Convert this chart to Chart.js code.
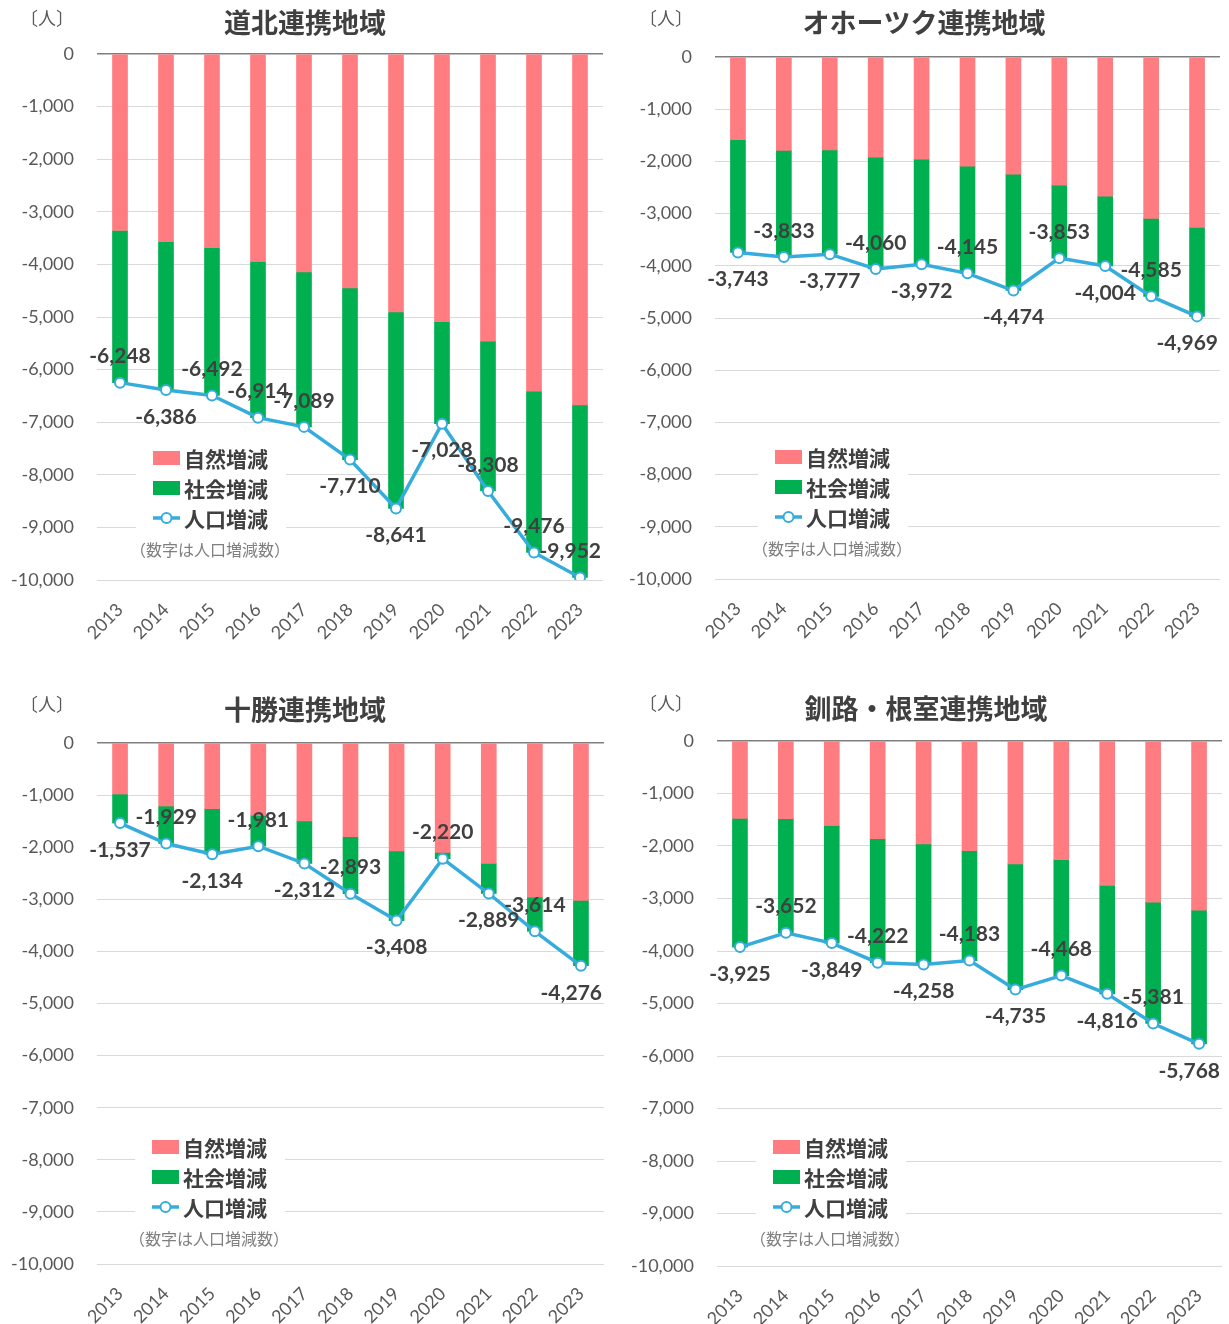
<!DOCTYPE html>
<html lang="ja">
<head>
<meta charset="utf-8">
<title>連携地域別 人口増減の推移</title>
<script src="https://cdn.jsdelivr.net/npm/chart.js@4.4.1/dist/chart.umd.min.js"></script>
<style>
  body { margin: 0; background: #fff; }
  #wrap { position: relative; width: 1229px; height: 1324px; overflow: hidden; }
  canvas { position: absolute; }
</style>
</head>
<body>
<div id="wrap">
  <canvas id="dohoku" width="615" height="660" style="left:0;top:0"></canvas>
  <canvas id="okhotsk" width="614" height="660" style="left:615px;top:0"></canvas>
  <canvas id="tokachi" width="615" height="664" style="left:0;top:660px"></canvas>
  <canvas id="kushiro" width="614" height="664" style="left:615px;top:660px"></canvas>
</div>
<script>
// categories and axis ticks
const years = ['2013', '2014', '2015', '2016', '2017', '2018', '2019', '2020', '2021', '2022', '2023'];
const yTickValues = [0, -1000, -2000, -3000, -4000, -5000, -6000, -7000, -8000, -9000, -10000];

// 道北連携地域
const dohokuNatural = [-3355, -3570, -3680, -3945, -4145, -4445, -4905, -5090, -5460, -6410, -6670];
const dohokuSocial  = [-2893, -2816, -2812, -2969, -2944, -3265, -3736, -1938, -2848, -3066, -3282];
const dohokuTotal   = [-6248, -6386, -6492, -6914, -7089, -7710, -8641, -7028, -8308, -9476, -9952];

// オホーツク連携地域
const okhotskNatural = [-1585, -1790, -1780, -1920, -1955, -2090, -2245, -2455, -2665, -3090, -3265];
const okhotskSocial  = [-2158, -2043, -1997, -2140, -2017, -2055, -2229, -1398, -1339, -1495, -1704];
const okhotskTotal   = [-3743, -3833, -3777, -4060, -3972, -4145, -4474, -3853, -4004, -4585, -4969];

// 十勝連携地域
const tokachiNatural = [-980, -1210, -1260, -1390, -1495, -1800, -2070, -2100, -2310, -2960, -3020];
const tokachiSocial  = [-557, -719, -874, -591, -817, -1093, -1338, -120, -579, -654, -1256];
const tokachiTotal   = [-1537, -1929, -2134, -1981, -2312, -2893, -3408, -2220, -2889, -3614, -4276];

// 釧路・根室連携地域
const kushiroNatural = [-1475, -1480, -1610, -1860, -1960, -2090, -2340, -2260, -2750, -3070, -3220];
const kushiroSocial  = [-2450, -2172, -2239, -2362, -2298, -2093, -2395, -2208, -2066, -2311, -2548];
const kushiroTotal   = [-3925, -3652, -3849, -4222, -4258, -4183, -4735, -4468, -4816, -5381, -5768];

const PINK = '#ff7c80';
const GREEN = '#00b050';
const BLUE = '#35acdb';
const JP = '"Noto Sans CJK JP", sans-serif';
const NUM = 'Lato, "Noto Sans", sans-serif';

const fmt = v => v.toLocaleString('en-US');

// title, unit, legend, note and the total labels
const overlay = {
  id: 'overlay',
  afterDraw(chart, args, o) {
    const ctx = chart.ctx;
    const area = chart.chartArea;
    ctx.save();
    ctx.textAlign = 'center';
    ctx.textBaseline = 'middle';

    ctx.fillStyle = '#595959';
    ctx.font = '18px ' + JP;
    ctx.fillText('〔人〕', o.unitX, o.unitY);

    ctx.fillStyle = '#404040';
    ctx.font = 'bold 27px ' + JP;
    ctx.fillText(o.title, o.titleX, o.titleY);

    // legend
    const lx = o.legendX, ly = o.legendY;
    ctx.fillStyle = '#fff';
    ctx.fillRect(lx - 17, ly - 13, 150, 89);
    ctx.fillStyle = PINK;
    ctx.fillRect(lx, ly - 7, 27, 14);
    ctx.fillStyle = GREEN;
    ctx.fillRect(lx, ly + 30 - 7, 27, 14);
    ctx.strokeStyle = BLUE;
    ctx.lineWidth = 3.5;
    ctx.beginPath();
    ctx.moveTo(lx, ly + 60);
    ctx.lineTo(lx + 27, ly + 60);
    ctx.stroke();
    ctx.beginPath();
    ctx.arc(lx + 13.5, ly + 60, 5, 0, Math.PI * 2);
    ctx.fillStyle = '#fff';
    ctx.fill();
    ctx.lineWidth = 2;
    ctx.stroke();

    ctx.textAlign = 'left';
    ctx.fillStyle = '#404040';
    ctx.font = 'bold 21px ' + JP;
    ['自然増減', '社会増減', '人口増減'].forEach((t, i) => {
      ctx.fillText(t, lx + 31, ly + i * 30 + 1);
    });
    ctx.textAlign = 'center';
    ctx.fillStyle = '#7f7f7f';
    ctx.font = '16px ' + JP;
    ctx.fillText('（数字は人口増減数）', lx + 57, ly + 92);

    // total labels
    const meta = chart.getDatasetMeta(2);
    const totals = chart.data.datasets[2].data;
    ctx.fillStyle = '#404040';
    ctx.font = 'bold 21px ' + NUM;
    meta.data.forEach((pt, i) => {
      const text = fmt(totals[i]);
      const w = ctx.measureText(text).width;
      let x = pt.x;
      if (x + w / 2 > area.right - 2) x = area.right - 2 - w / 2;
      const y = o.labelPos[i] === 'a' ? pt.y - 26 : pt.y + 27;
      ctx.fillText(text, x, y);
    });
    ctx.restore();
  }
};

function makeChart(id, natural, social, total, lay) {
  new Chart(document.getElementById(id), {
    type: 'bar',
    data: {
      labels: years,
      datasets: [
        {
          label: '自然増減',
          data: natural,
          backgroundColor: PINK,
          stack: 'bars',
          barThickness: 15,
          order: 1
        },
        {
          label: '社会増減',
          data: social,
          backgroundColor: GREEN,
          stack: 'bars',
          barThickness: 15,
          order: 1
        },
        {
          type: 'line',
          label: '人口増減',
          data: total,
          stack: 'line',
          borderColor: BLUE,
          borderWidth: 3.5,
          pointRadius: 5,
          pointBorderWidth: 2,
          pointBackgroundColor: '#fff',
          pointBorderColor: BLUE,
          tension: 0,
          order: 0
        }
      ]
    },
    options: {
      responsive: false,
      animation: false,
      devicePixelRatio: 1,
      layout: { padding: { top: lay.top, right: lay.right, bottom: 0, left: 0 } },
      plugins: {
        legend: { display: false },
        tooltip: { enabled: false },
        overlay: lay
      },
      scales: {
        x: {
          stacked: true,
          grid: { display: false },
          border: { display: false },
          ticks: {
            color: '#595959',
            font: { family: NUM, size: 18 },
            minRotation: 45,
            maxRotation: 45,
            autoSkip: false,
            padding: 11
          },
          afterFit: s => { s.height = lay.bottom; }
        },
        y: {
          stacked: true,
          min: -10000,
          max: 0,
          afterBuildTicks: s => { s.ticks = yTickValues.map(v => ({ value: v })); },
          grid: {
            drawTicks: false,
            color: c => c.tick && c.tick.value === 0 ? '#7f7f7f' : '#d9d9d9',
            lineWidth: c => c.tick && c.tick.value === 0 ? 1.5 : 1
          },
          border: { display: false },
          ticks: {
            color: '#595959',
            font: { family: NUM, size: 18 },
            padding: 23,
            callback: v => fmt(v)
          },
          afterFit: s => { s.width = lay.axisWidth; }
        }
      }
    },
    plugins: [overlay]
  });
}

makeChart('dohoku', dohokuNatural, dohokuSocial, dohokuTotal, {
  title: '道北連携地域', titleX: 305, titleY: 23, unitX: 47, unitY: 18,
  top: 54, bottom: 80, right: 12, axisWidth: 97,
  legendX: 153, legendY: 458,
  labelPos: ['a', 'b', 'a', 'a', 'a', 'b', 'b', 'b', 'a', 'a', 'a']
});
makeChart('okhotsk', okhotskNatural, okhotskSocial, okhotskTotal, {
  title: 'オホーツク連携地域', titleX: 309, titleY: 23, unitX: 51, unitY: 18,
  top: 57, bottom: 81, right: 9, axisWidth: 100,
  legendX: 160, legendY: 457,
  labelPos: ['b', 'a', 'b', 'a', 'b', 'a', 'b', 'a', 'b', 'a', 'b']
});
makeChart('tokachi', tokachiNatural, tokachiSocial, tokachiTotal, {
  title: '十勝連携地域', titleX: 305, titleY: 50, unitX: 47, unitY: 44,
  top: 83, bottom: 60, right: 11, axisWidth: 97,
  legendX: 152, legendY: 487,
  labelPos: ['b', 'a', 'b', 'a', 'b', 'a', 'b', 'a', 'b', 'a', 'b']
});
makeChart('kushiro', kushiroNatural, kushiroSocial, kushiroTotal, {
  title: '釧路・根室連携地域', titleX: 311, titleY: 49, unitX: 51, unitY: 43,
  top: 81, bottom: 58, right: 4, axisWidth: 102,
  legendX: 158, legendY: 487,
  labelPos: ['b', 'a', 'b', 'a', 'b', 'a', 'b', 'a', 'b', 'a', 'b']
});
</script>
</body>
</html>
